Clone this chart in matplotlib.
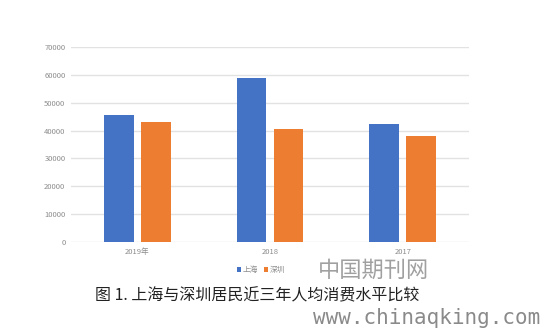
import numpy as np
import matplotlib.pyplot as plt

plt.rcParams['font.family'] = ['Noto Sans CJK SC', 'DejaVu Sans']

years = ["2019年", "2018", "2017"]
shanghai = [45500, 59000, 42300]
shenzhen = [43000, 40400, 38200]
series_names = ["上海", "深圳"]
yticks = [0, 10000, 20000, 30000, 40000, 50000, 60000, 70000]

blue = "#4472C4"
orange = "#ED7D31"
tick_grey = "#8c8c8c"

fig = plt.figure(figsize=(5.44, 3.28), dpi=100)
ax = fig.add_axes([71/544, 1-242/328, 398/544, (242-47)/328])

x = np.arange(len(years))
w = 0.225
ax.bar(x - 0.14, shanghai, width=w, color=blue, label=series_names[0], zorder=3)
ax.bar(x + 0.14, shenzhen, width=w, color=orange, label=series_names[1], zorder=3)

ax.set_xlim(-0.5, 2.5)
ax.set_ylim(0, 70000)
ax.set_yticks(yticks)
ax.set_yticklabels([str(v) for v in yticks])
ax.set_xticks(x)
ax.set_xticklabels(years)
ax.tick_params(axis='both', length=0, labelsize=5.5, colors=tick_grey)
ax.tick_params(axis='y', pad=4)
ax.tick_params(axis='x', pad=4)
ax.grid(axis='y', color="#e2e2e2", linewidth=1.0, zorder=0)
for s in ax.spines.values():
    s.set_visible(False)

ax.legend(loc='upper center', bbox_to_anchor=(190/398, -0.09), ncol=2, frameon=False,
          fontsize=5.5, handlelength=0.55, handleheight=0.55, handletextpad=0.2,
          columnspacing=0.8, labelcolor=tick_grey)

fig.text(318/544, 1-270/328, "中国期刊网", fontsize=16, color="#a0a0a0", va='center', ha='left')
fig.text(95/544, 1-296/328, "图 1. 上海与深圳居民近三年人均消费水平比较", fontsize=11.5,
         color="#222222", va='center', ha='left')
fig.text(313/544, 1-318/328, "www.chinaqking.com", fontsize=15, color="#8a8a8a",
         family='DejaVu Sans Mono', va='center', ha='left')

fig.savefig("out.png", dpi=100)
